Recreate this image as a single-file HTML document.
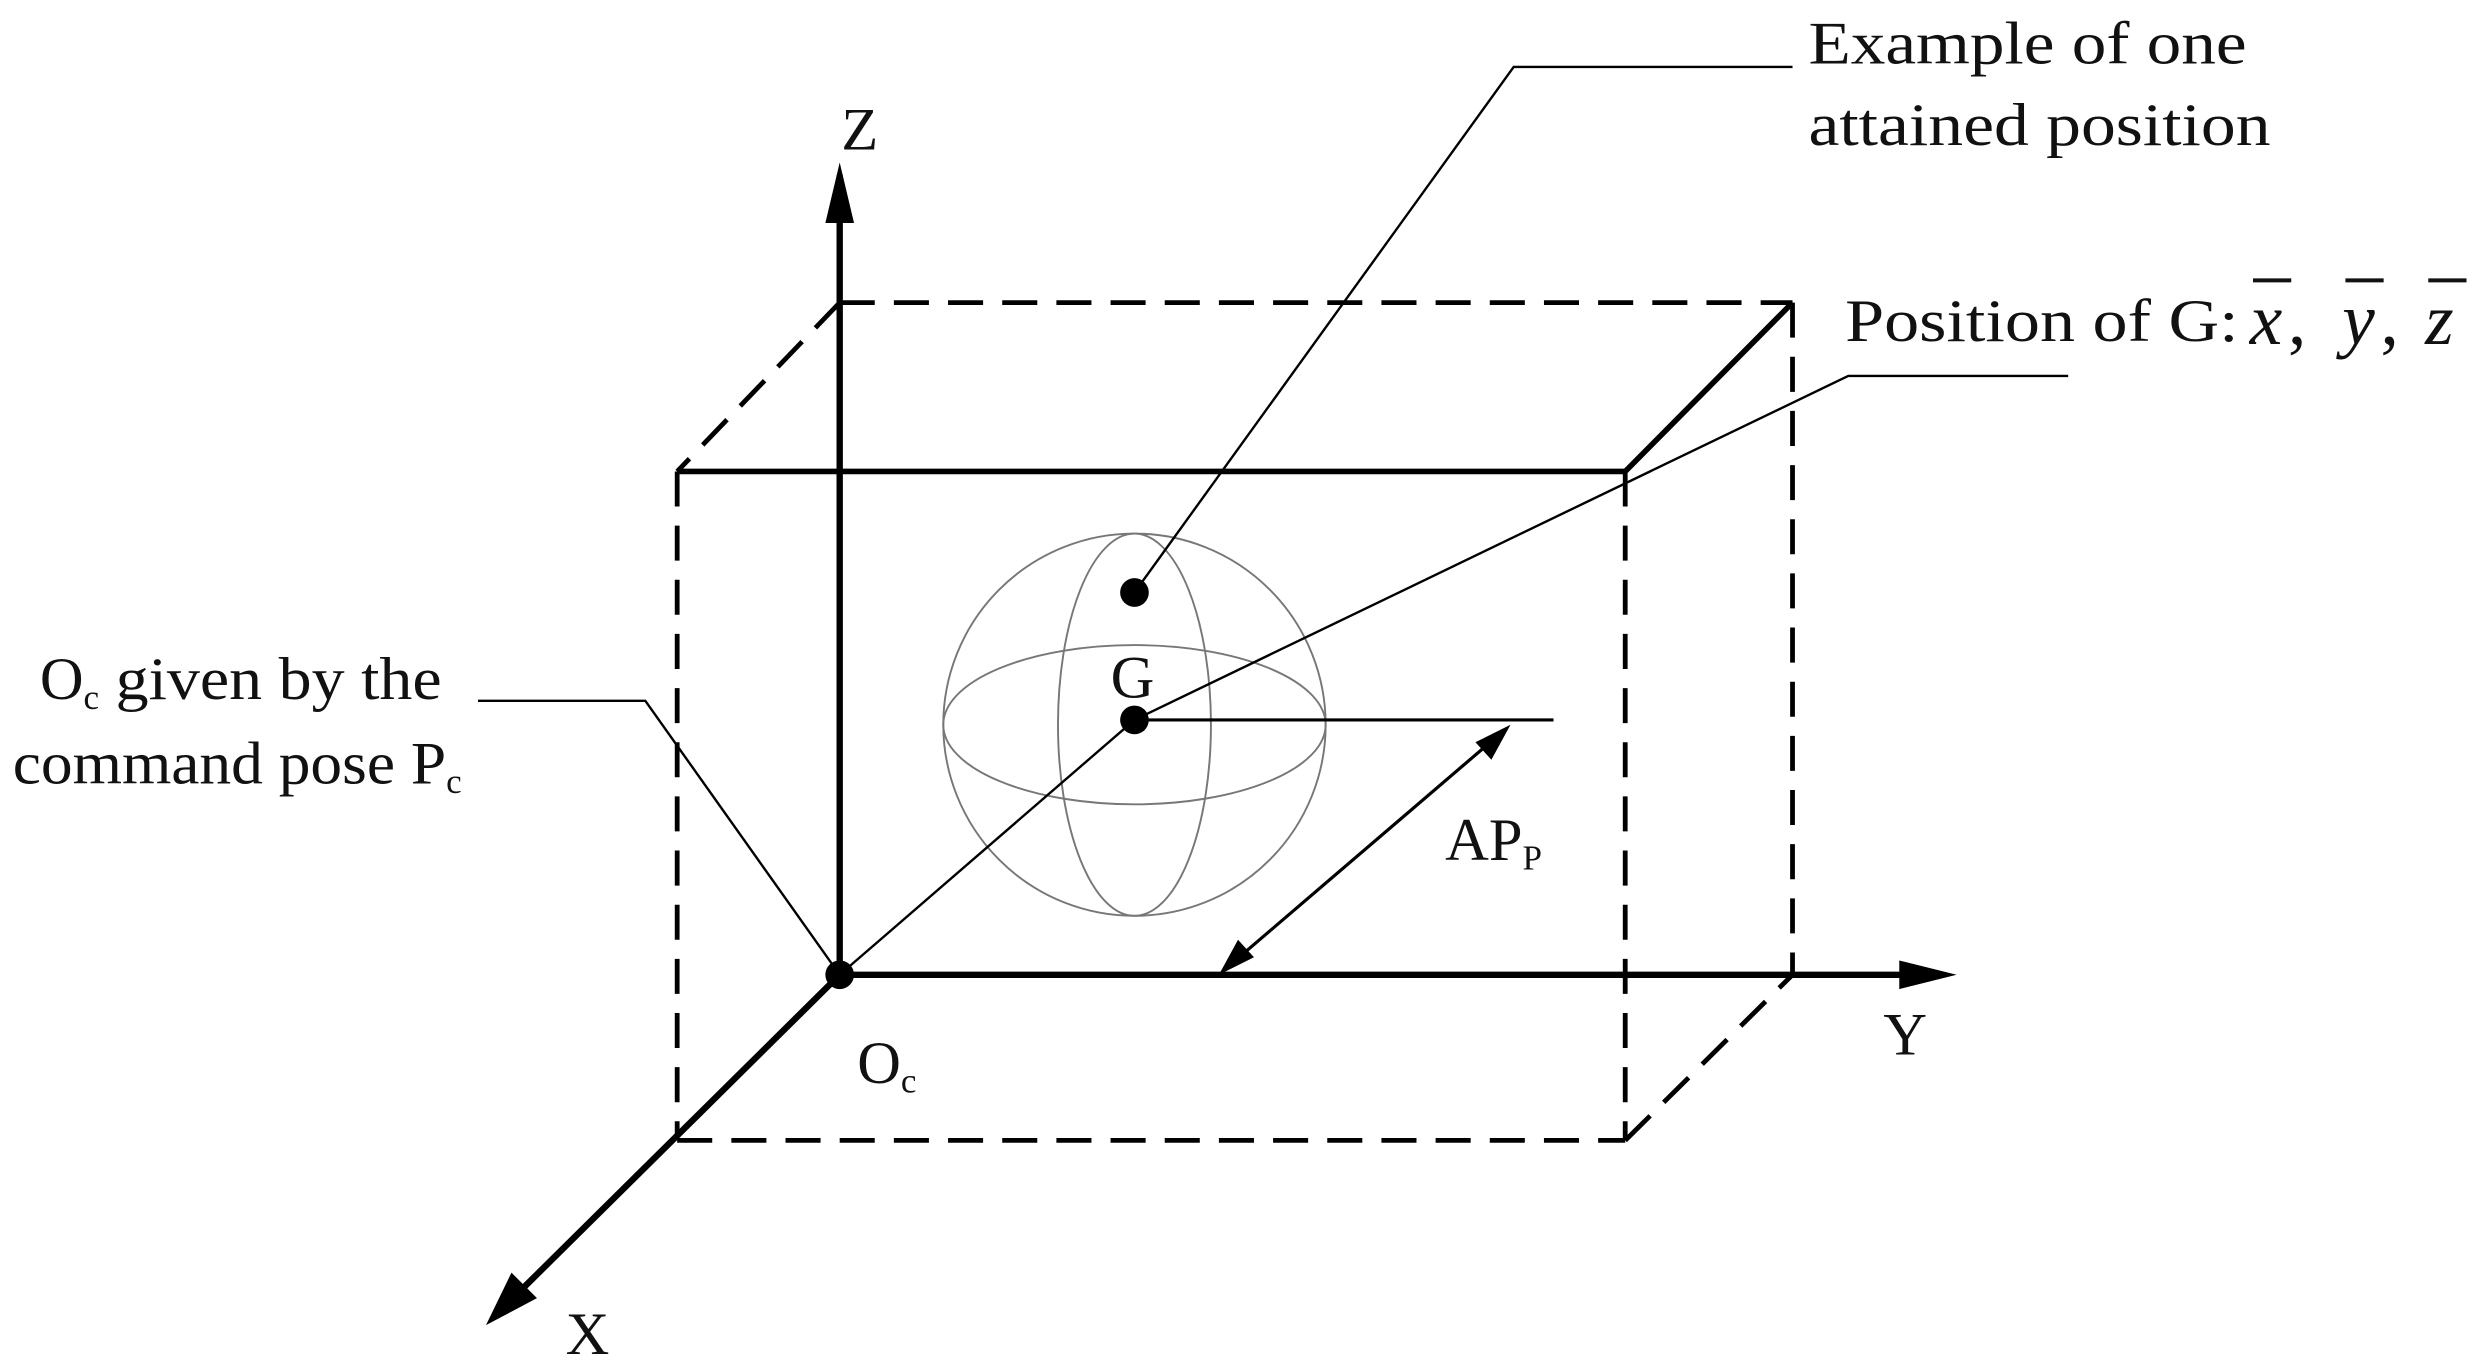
<!DOCTYPE html>
<html><head><meta charset="utf-8"><style>
html,body{margin:0;padding:0;background:#fff;}
svg{display:block;}
text{font-family:"Liberation Serif",serif;fill:#111;}
</style></head><body>
<svg width="2492" height="1365" viewBox="0 0 1564 857" preserveAspectRatio="none" xmlns="http://www.w3.org/2000/svg">
<g stroke="#000" fill="none">
<g stroke-width="3" stroke-dasharray="22,12">
<line x1="527" y1="190" x2="1125" y2="190"/>
<line x1="1125" y1="190" x2="1125" y2="612"/>
<line x1="527" y1="190" x2="425" y2="296"/>
<line x1="425" y1="296" x2="425" y2="716"/>
<line x1="425" y1="716" x2="1020" y2="716"/>
<line x1="1020" y1="296" x2="1020" y2="716"/>
<line x1="1020" y1="716" x2="1125" y2="612"/>
</g>
<line x1="425" y1="296" x2="1020" y2="296" stroke-width="3.5"/>
<line x1="1020" y1="296" x2="1125" y2="190" stroke-width="3.5"/>
<g stroke="#777" stroke-width="1.2">
<circle cx="712" cy="455" r="120"/>
<ellipse cx="712" cy="455" rx="120" ry="50"/>
<ellipse cx="712" cy="455" rx="48" ry="120"/>
</g>
<line x1="527" y1="612" x2="527" y2="110" stroke-width="4"/>
<path d="M527,102 L518,140 L536,140 z" fill="#000" stroke="none"/>
<line x1="527" y1="612" x2="1200" y2="612" stroke-width="4"/>
<path d="M1228,612 L1192,603 L1192,621 z" fill="#000" stroke="none"/>
<line x1="527" y1="612" x2="325" y2="812" stroke-width="4"/>
<path d="M305,832 L321,799 L337,815 z" fill="#000" stroke="none"/>
<line x1="527" y1="612" x2="712" y2="452" stroke-width="1.5"/>
<line x1="712" y1="452" x2="975" y2="452" stroke-width="2"/>
<line x1="940" y1="462" x2="773" y2="605" stroke-width="2"/>
<path d="M948,455 L926,466 L936,477 z" fill="#000" stroke="none"/>
<path d="M765,612 L777,590 L787,601 z" fill="#000" stroke="none"/>
<polyline points="712,372 950,42 1125,42" stroke-width="1.5"/>
<polyline points="712,452 1160,236 1298,236" stroke-width="1.5"/>
<polyline points="527,612 405,440 300,440" stroke-width="1.5"/>
</g>
<circle cx="527" cy="612" r="9" fill="#000"/>
<circle cx="712" cy="372" r="9" fill="#000"/>
<circle cx="712" cy="452" r="9" fill="#000"/>
<g font-size="38">
<text x="528" y="94">Z</text>
<text x="1182" y="662">Y</text>
<text x="355" y="850">X</text>
<text x="697" y="438">G</text>
<text x="538" y="680">O<tspan font-size="22" dy="6">c</tspan></text>
<text x="907" y="540">AP<tspan font-size="22" dy="6">P</tspan></text>
<text x="1135" y="40" textLength="275" lengthAdjust="spacingAndGlyphs">Example of one</text>
<text x="1135" y="91" textLength="290" lengthAdjust="spacingAndGlyphs">attained position</text>
<text x="1158" y="214" textLength="247" lengthAdjust="spacingAndGlyphs">Position of G:</text>
<text x="25" y="439">O<tspan font-size="22" dy="6">c</tspan><tspan dy="-6" textLength="215" lengthAdjust="spacingAndGlyphs"> given by the</tspan></text>
<text x="8" y="492"><tspan textLength="272" lengthAdjust="spacingAndGlyphs">command pose P</tspan><tspan font-size="22" dy="6">c</tspan></text>
</g>
<g font-size="46" font-style="italic">
<text x="1412" y="216">x</text>
<text x="1436" y="216" font-style="normal">,</text>
<text x="1470" y="216">y</text>
<text x="1494" y="216" font-style="normal">,</text>
<text x="1522" y="216">z</text>
</g>
<g stroke="#111" stroke-width="2.5">
<line x1="1414" y1="176" x2="1438" y2="176"/>
<line x1="1472" y1="176" x2="1496" y2="176"/>
<line x1="1524" y1="176" x2="1548" y2="176"/>
</g>
</svg>
</body></html>
